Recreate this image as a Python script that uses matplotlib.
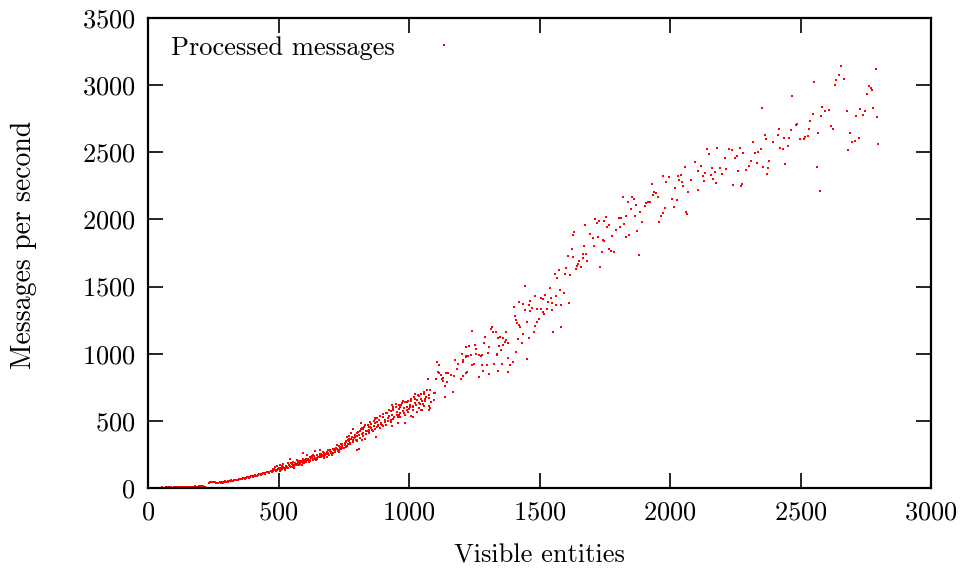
import matplotlib
matplotlib.use("Agg")
import matplotlib.pyplot as plt

plt.rcParams['font.family'] = ['cmr10', 'DejaVu Serif']
plt.rcParams['axes.formatter.use_mathtext'] = True

# (visible entities, messages per second), grouped by range
pts_low = [
    (52, 4), (60, 3), (68, 5), (75, 4), (83, 6), (90, 5), (98, 6), (105, 7), (112, 6),
    (120, 8), (127, 7), (135, 9), (142, 8), (150, 10), (157, 9), (165, 11), (172, 10),
    (180, 12), (187, 11), (195, 12), (202, 13), (210, 12), (218, 10),
    (232, 38), (238, 44), (244, 47), (250, 46), (256, 44), (262, 40),
    (270, 36), (278, 40), (285, 42), (292, 45), (300, 47), (308, 50), (315, 52), (322, 55),
    (330, 57), (338, 60), (345, 63), (352, 66), (360, 68), (368, 72), (375, 75), (382, 79),
    (390, 83), (397, 86), (405, 90), (412, 93), (420, 97), (428, 101), (435, 104),
    (442, 108), (450, 112), (457, 116), (464, 120), (472, 124), (478, 127), (486, 131),
    (493, 134), (500, 138),
]

pts_band = [
    (505, 130), (508, 146), (515, 142), (520, 150), (527, 148), (532, 158), (538, 152),
    (545, 165), (550, 160), (556, 172), (562, 168), (568, 178), (573, 186), (580, 175),
    (586, 190), (592, 184), (598, 198), (604, 192), (610, 205), (616, 200), (622, 212),
    (628, 220), (634, 208), (640, 225), (646, 218), (652, 232), (658, 240), (664, 228),
    (670, 245), (676, 238), (682, 255), (688, 262), (694, 248), (700, 270), (706, 262),
    (712, 280), (718, 272), (724, 290), (730, 282), (736, 298), (742, 310), (748, 300),
    (754, 318), (760, 340), (766, 330), (772, 350), (778, 365), (784, 345), (790, 372),
    (796, 360), (802, 388), (808, 398),
    (512, 165), (525, 135), (548, 185), (560, 150), (575, 200), (590, 170), (605, 215),
    (618, 190), (630, 240), (645, 205), (660, 255), (675, 225), (690, 280), (705, 245),
    (480, 144), (485, 154), (493, 164), (506, 169), (518, 179), (536, 189), (554, 194),
    (544, 213), (570, 209), (582, 204), (595, 218), (595, 258), (608, 243), (639, 213),
    (621, 233), (631, 243), (641, 278), (659, 233), (685, 233), (659, 283), (672, 268),
    (690, 253), (707, 258), (697, 273), (731, 268), (718, 288), (799, 283), (807, 293),
    (759, 308), (738, 303), (723, 318), (741, 328), (756, 333), (774, 333), (820, 357),
    (802, 352), (787, 357), (766, 357), (761, 382), (794, 382), (771, 387), (779, 412),
    (787, 437), (830, 367), (820, 402), (802, 407), (812, 427), (848, 407), (838, 427),
    (825, 437), (845, 457), (833, 472), (817, 482), (874, 382), (876, 452), (851, 452),
    (866, 462), (881, 472), (879, 491), (871, 511),
]

# second pass over the thick part of the band
pts_band2 = [
    (275, 42), (288, 38), (296, 50), (305, 44), (318, 56), (326, 52), (334, 62), (342, 58),
    (350, 70), (358, 64), (365, 76), (372, 70), (380, 84), (388, 78), (395, 92), (402, 84),
    (410, 98), (418, 90), (425, 106), (432, 98), (440, 114), (447, 104), (455, 122),
    (462, 112), (470, 130), (476, 120), (484, 138), (490, 126), (497, 144), (503, 150),
    (510, 136), (517, 158), (523, 144), (530, 166), (535, 150), (542, 172), (548, 156),
    (553, 180), (559, 162), (565, 188), (571, 170), (577, 194), (583, 180), (589, 200),
    (596, 186), (601, 210), (607, 196), (613, 218), (619, 204), (625, 226), (632, 214),
    (637, 236), (643, 222), (649, 246), (655, 228), (661, 250), (667, 236), (673, 258),
    (679, 244), (685, 266), (691, 252), (697, 280), (703, 260), (709, 290), (715, 268),
    (721, 300), (727, 276), (733, 312), (739, 288), (745, 326), (751, 300), (757, 350),
    (763, 316), (769, 362), (775, 330), (781, 380), (787, 340), (793, 398), (799, 356),
    (805, 420), (811, 372), (817, 440), (823, 390), (829, 456), (835, 404), (841, 470),
    (847, 420), (853, 480), (859, 430), (865, 500), (871, 440), (877, 520), (883, 460),
    (889, 536), (895, 470), (901, 550), (907, 490), (913, 560), (919, 500), (925, 580),
    (931, 510), (937, 596), (943, 530), (949, 606), (955, 540), (961, 620), (967, 556),
    (973, 632), (979, 560), (985, 644), (991, 580), (997, 650), (1003, 600), (1009, 666),
    (1015, 610), (1021, 676), (1027, 620), (1033, 690), (1039, 636), (1045, 700),
    (1051, 646), (1057, 716), (1063, 660), (1069, 728), (1075, 690),
]

pts_mid = [
    (1109, 941), (1114, 913), (1116, 859), (1124, 839), (1131, 817), (1129, 799),
    (1146, 789), (1143, 859), (1151, 854), (1138, 759), (1074, 809), (1103, 809),
    (1080, 730), (1096, 710), (1137, 680), (1059, 700), (1040, 685), (1022, 663),
    (1045, 665), (1063, 650), (1075, 673), (1086, 640), (1078, 611), (1082, 593),
    (1029, 653), (1009, 645), (991, 640), (976, 650), (950, 625), (971, 616), (1004, 616),
    (1024, 631), (1055, 625), (940, 601), (961, 590), (982, 596), (1001, 590), (1017, 601),
    (1037, 596), (1057, 611), (932, 576), (955, 566), (978, 571), (996, 566), (1014, 581),
    (1029, 566), (1050, 581), (915, 556), (935, 546), (963, 544), (986, 546), (1006, 536),
    (899, 526), (920, 524), (940, 516), (966, 526), (869, 519), (884, 504), (909, 506),
    (930, 491), (851, 491), (869, 482), (894, 477), (912, 467), (830, 467), (848, 457),
    (879, 452), (820, 447),
    (1101, 710), (1097, 655), (1065, 680), (1024, 698), (994, 605), (1042, 623),
    (1077, 579), (1047, 579), (964, 601), (936, 616), (939, 584), (1029, 564), (959, 529),
    (922, 534), (1015, 531), (893, 484), (957, 482), (983, 484), (856, 449), (902, 459),
    (934, 462), (1112, 861), (1126, 809), (835, 422), (825, 410), (863, 422), (845, 432),
    (889, 444),
]

pts_upper = [
    (1446, 1504), (1482, 1427), (1522, 1435), (1420, 1387), (1438, 1372), (1458, 1365),
    (1464, 1392), (1507, 1415), (1515, 1405), (1533, 1385), (1548, 1378), (1563, 1363),
    (1584, 1363), (1613, 1375), (1404, 1348), (1471, 1340), (1444, 1323), (1492, 1333),
    (1507, 1331), (1528, 1333), (1548, 1328), (1465, 1318), (1515, 1310), (1518, 1296),
    (1497, 1258), (1407, 1281), (1409, 1251), (1414, 1229), (1421, 1216), (1453, 1236),
    (1489, 1236), (1427, 1201), (1483, 1209), (1584, 1201), (1552, 1164), (1478, 1162),
    (1437, 1147), (1458, 1120), (1417, 1112), (1432, 1077), (1411, 1015), (1452, 961),
    (1241, 1169), (1317, 1199), (1313, 1186), (1322, 1162), (1332, 1159), (1372, 1162),
    (1349, 1127), (1359, 1115), (1373, 1104), (1369, 1085), (1381, 1082), (1342, 1119),
    (1345, 1060), (1360, 1067), (1291, 1122), (1308, 1048), (1286, 1082), (1251, 1065),
    (1231, 1060), (1217, 1050), (1257, 1035), (1270, 990), (1275, 985), (1280, 988),
    (1256, 998), (1239, 993), (1225, 983), (1202, 998), (1218, 985), (1303, 1003),
    (1338, 998), (1336, 988), (1351, 1025), (1206, 951), (1176, 953), (1208, 940),
    (1220, 975), (1243, 918), (1249, 923), (1280, 916), (1298, 918), (1327, 925),
    (1357, 921), (1378, 966), (1387, 918), (1397, 938), (1189, 921), (1222, 866),
    (1282, 873), (1305, 851), (1342, 873), (1379, 864), (1267, 829), (1171, 836),
    (1198, 814), (1169, 717), (1184, 889), (1160, 844), (1207, 832), (1220, 854),
]

pts_high = [
    (2096, 2430), (2056, 2390), (2109, 2360), (1974, 2323), (1996, 2318), (2031, 2323),
    (2041, 2331), (1985, 2278), (2036, 2291), (2046, 2276), (2079, 2291), (1930, 2264),
    (2020, 2236), (2051, 2249), (2106, 2219), (2070, 2201), (1940, 2204), (1946, 2199),
    (1936, 2182), (1954, 2169), (1820, 2164), (1854, 2167), (1861, 2150), (1839, 2127),
    (2009, 2150), (2026, 2144), (1915, 2132), (1925, 2130), (1907, 2122), (1904, 2098),
    (1870, 2110), (1849, 2077), (1885, 2055), (1980, 2083), (2015, 2092), (1972, 2048),
    (1967, 2025), (2060, 2053), (2066, 2038), (1959, 1978), (1865, 2025), (1833, 2028),
    (1814, 2010), (1803, 2010), (1754, 2020), (1713, 2003), (1729, 1990), (1748, 1985),
    (1719, 1975), (1674, 1956), (1767, 1960), (1760, 1943), (1824, 1966), (1810, 1946),
    (1894, 1981), (1794, 1921), (1875, 1914), (1633, 1906), (1628, 1886), (1695, 1889),
    (1705, 1859), (1724, 1871), (1778, 1879), (1844, 1881), (1830, 1866), (1742, 1849),
    (1746, 1837), (1669, 1802), (1708, 1802), (1765, 1780), (1773, 1768), (1784, 1757),
    (1738, 1757), (1623, 1780), (1609, 1730), (1628, 1718), (1668, 1742), (1678, 1745),
    (1665, 1716), (1651, 1690), (1682, 1690), (1880, 1737), (1642, 1655), (1648, 1665),
    (1659, 1648), (1733, 1646), (1603, 1636), (1639, 1631), (1574, 1623), (1597, 1596),
    (1618, 1586), (1558, 1591), (1568, 1561), (1540, 1491), (1579, 1474), (1594, 1452),
    (1563, 1430), (1543, 1413),
]

pts_top = [
    (2553, 3023), (2467, 2921), (2352, 2832), (2548, 2785), (2538, 2735), (2488, 2710),
    (2483, 2703), (2418, 2673), (2462, 2668), (2533, 2673), (2568, 2643), (2363, 2631),
    (2413, 2628), (2528, 2623), (2517, 2616), (2368, 2599), (2437, 2606), (2457, 2609),
    (2497, 2601), (2512, 2601), (2318, 2576), (2396, 2576), (2452, 2549), (2347, 2527),
    (2421, 2532), (2432, 2524), (2141, 2522), (2181, 2534), (2226, 2522), (2236, 2517),
    (2267, 2534), (2151, 2487), (2281, 2497), (2327, 2497), (2337, 2504), (2211, 2455),
    (2250, 2457), (2257, 2472), (2312, 2437), (2380, 2437), (2332, 2422), (2120, 2395),
    (2161, 2383), (2192, 2383), (2216, 2378), (2303, 2400), (2357, 2393), (2377, 2380),
    (2442, 2412), (2562, 2388), (2135, 2348), (2171, 2350), (2156, 2333), (2200, 2340),
    (2261, 2363), (2291, 2370), (2372, 2340), (2126, 2326), (2166, 2303), (2130, 2288),
    (2176, 2271), (2243, 2258), (2277, 2266), (2271, 2249), (2573, 2211),
    (2654, 3142), (2789, 3120), (2648, 3075), (2667, 3045), (2637, 3038), (2633, 2998),
    (2762, 2991), (2770, 2978), (2774, 2961), (2754, 2936), (2584, 2834), (2609, 2812),
    (2594, 2809), (2678, 2809), (2577, 2772), (2729, 2824), (2779, 2829), (2748, 2804),
    (2714, 2772), (2738, 2777), (2793, 2765), (2618, 2698), (2623, 2673), (2688, 2643),
    (2724, 2606), (2709, 2584), (2699, 2574), (2798, 2559), (2683, 2519),
]

points = pts_low + pts_band + pts_band2 + pts_mid + pts_upper + pts_high + pts_top
entities = [p[0] for p in points]
messages = [p[1] for p in points]

fig = plt.figure(figsize=(9.64, 5.68), dpi=100)
ax = fig.add_axes([148 / 964, 1 - 488 / 568, 783 / 964, 470 / 568])

ax.plot(entities, messages, linestyle='none', marker='s', markersize=1.5,
        markeredgewidth=0, color='#ff0000', label='Processed messages')

ax.set_xlim(0, 3000)
ax.set_ylim(0, 3500)
ax.set_xticks(range(0, 3001, 500))
ax.set_yticks(range(0, 3501, 500))
ax.tick_params(direction='in', length=11, width=1.2, top=True, right=True,
               labelsize=19, pad=9)
for s in ax.spines.values():
    s.set_linewidth(1.6)

ax.set_xlabel('Visible entities', fontsize=19, labelpad=14)
ax.set_ylabel('Messages per second', fontsize=20)
ax.yaxis.set_label_coords(-0.1418, 0.517)

leg = ax.legend(loc='upper left', bbox_to_anchor=(0.03, 0.962), frameon=False,
                markerfirst=False, handlelength=1.0, handletextpad=1.35,
                borderpad=0, borderaxespad=0, fontsize=19, markerscale=1)

fig.savefig('out.png', dpi=100)
